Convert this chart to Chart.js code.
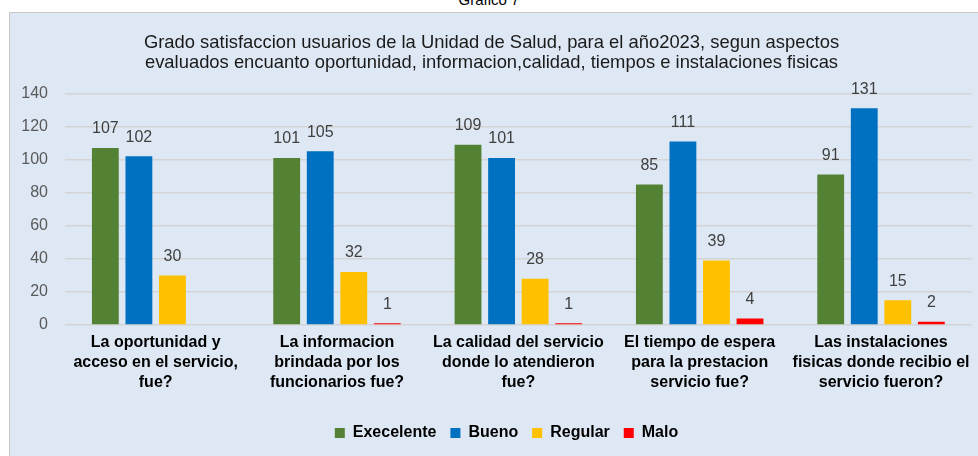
<!DOCTYPE html>
<html><head><meta charset="utf-8">
<script src="https://cdn.jsdelivr.net/npm/chart.js@4.4.1/dist/chart.umd.min.js"></script>
<style>
html,body{margin:0;padding:0;background:#fff;width:978px;height:456px;overflow:hidden;}
#top{position:absolute;left:0;top:-9px;width:978px;text-align:center;font:15px "Liberation Sans",Arial,sans-serif;color:#000;}
#panel{position:absolute;left:9px;top:12px;width:975px;height:450px;background:#dee8f4;border:1px solid #c8c8c8;box-sizing:border-box;}
#wrap{position:absolute;left:0;top:0;width:968px;height:444px;}
</style></head>
<body>
<div id="top">Grafico 7</div>
<div id="panel"><div id="wrap"><canvas id="c"></canvas></div></div>
<script>
const categories = [
  ["La oportunidad y","acceso en el servicio,","fue?"],
  ["La informacion","brindada por los","funcionarios fue?"],
  ["La calidad del servicio","donde lo atendieron","fue?"],
  ["El tiempo de espera","para la prestacion","servicio fue?"],
  ["Las instalaciones","fisicas donde recibio el","servicio fueron?"]
];
const seriesNames = ["Execelente","Bueno","Regular","Malo"];
const excelente = [107,101,109,85,91];
const bueno = [102,105,101,111,131];
const regular = [30,32,28,39,15];
const malo = [null,1,1,4,2];
const yTicks = [0,20,40,60,80,100,120,140];
const colors = ["#548235","#0070c0","#ffc000","#ff0000"];
const FONT = '"Liberation Sans", Arial, sans-serif';

const labelPlugin = {
  id:'vals',
  afterLayout(chart){
    if(chart.legend){ chart.legend.left += 15; chart.legend.right += 15; }
  },
  afterDatasetsDraw(chart){
    const ctx = chart.ctx;
    ctx.save();
    ctx.font = '16px ' + FONT;
    ctx.fillStyle = '#404040';
    ctx.textAlign = 'center';
    ctx.textBaseline = 'middle';
    chart.data.datasets.forEach((ds,i)=>{
      const meta = chart.getDatasetMeta(i);
      meta.data.forEach((el,j)=>{
        const v = ds.data[j];
        if(v===null||v===undefined) return;
        ctx.fillText(String(v), el.x, el.y - 19);
      });
    });
    ctx.restore();
  }
};

new Chart(document.getElementById('c'),{
  type:'bar',
  data:{
    labels:categories,
    datasets:[
      {label:seriesNames[0],data:excelente,backgroundColor:colors[0]},
      {label:seriesNames[1],data:bueno,backgroundColor:colors[1]},
      {label:seriesNames[2],data:regular,backgroundColor:colors[2]},
      {label:seriesNames[3],data:malo,backgroundColor:colors[3]}
    ]
  },
  options:{
    responsive:true,
    maintainAspectRatio:false,
    animation:false,
    datasets:{bar:{categoryPercentage:0.74,barPercentage:0.8}},
    layout:{padding:{left:0,right:5,top:20,bottom:6}},
    plugins:{
      title:{display:true,text:["Grado satisfaccion usuarios de la Unidad de Salud, para el año2023, segun aspectos","evaluados encuanto oportunidad, informacion,calidad, tiempos e instalaciones fisicas"],
        font:{family:FONT,size:18.4,weight:'normal',lineHeight:1.1},color:'#1a1a1a',padding:{top:0,bottom:20}},
      legend:{position:'bottom',labels:{boxWidth:10,boxHeight:10,padding:14,color:'#000',font:{family:FONT,size:16,weight:'bold'}}},
      tooltip:{enabled:false}
    },
    scales:{
      x:{grid:{display:false,drawTicks:false},border:{display:false},
        afterFit(ax){ax.height += 10;},
        ticks:{color:'#000',maxRotation:0,autoSkip:false,padding:8,font:{family:FONT,size:16,weight:'bold',lineHeight:1.25}}},
      y:{min:0,max:140,afterBuildTicks(ax){ax.ticks=yTicks.map(v=>({value:v}));},
        afterFit(ax){ax.width = 55;},
        grid:{color:'#d4d4d4',lineWidth:1.5,drawTicks:false},border:{display:false},
        ticks:{color:'#595959',padding:17,font:{family:FONT,size:16}}}
    }
  },
  plugins:[labelPlugin]
});
</script>
</body></html>
